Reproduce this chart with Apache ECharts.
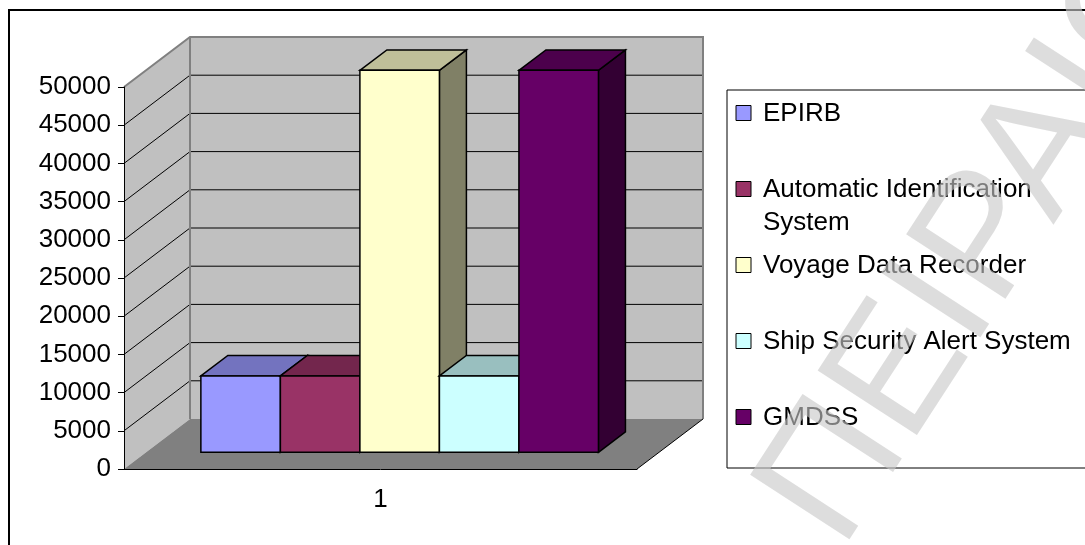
<!DOCTYPE html>
<html>
<head>
<meta charset="utf-8">
<script src="https://cdn.jsdelivr.net/npm/echarts/dist/echarts.min.js"></script>
<style>
html,body{margin:0;padding:0;background:#fff}
#main{width:1085px;height:545px}
</style>
</head>
<body>
<div id="main"></div>
<script>
var categories = ['1'];
var seriesNames = ['EPIRB', 'Automatic Identification System', 'Voyage Data Recorder', 'Ship Security Alert System', 'GMDSS'];
var seriesValues = [10000, 10000, 50000, 10000, 50000];
var frontColors = ['#9999FF', '#993366', '#FFFFCC', '#CCFFFF', '#660066'];
var topColors = ['#7373BF', '#73264D', '#BFBF99', '#99BFBF', '#4C004C'];
var sideColors = ['#4D4D80', '#4D1A33', '#808066', '#668080', '#330033'];
var yMax = 50000, yStep = 5000;

// fake 3d: depth of the walls and where the bars sit inside it
var DX = 66, DY = 50;
var barFront = 0.333, barBack = 0.742;
var barLeft = 0.107, barFrac = 0.155;
var FONT = '"Liberation Sans", Arial, sans-serif';

function renderWalls(params, api) {
	var c = api.coord([0, 0]);
	var band = api.size([1, 0])[0];
	var x0 = c[0] - band / 2, x1 = c[0] + band / 2, yb = c[1];
	var yt = api.coord([0, yMax])[1];
	var ch = [];
	ch.push({type: 'polygon', shape: {points: [[x0, yb], [x0 + DX, yb - DY], [x0 + DX, yt - DY], [x0, yt]]}, style: {fill: '#C0C0C0'}});
	ch.push({type: 'rect', shape: {x: x0 + DX, y: yt - DY, width: band, height: yb - yt}, style: {fill: '#C0C0C0'}});
	ch.push({type: 'polygon', shape: {points: [[x0, yb], [x1, yb], [x1 + DX, yb - DY], [x0 + DX, yb - DY]]}, style: {fill: '#808080'}});
	for (var v = yStep; v < yMax; v += yStep) {
		var y = api.coord([0, v])[1];
		ch.push({type: 'polyline', shape: {points: [[x0, y], [x0 + DX, y - DY], [x1 + DX, y - DY]]}, style: {stroke: '#000', lineWidth: 1, fill: null}});
	}
	ch.push({type: 'polyline', shape: {points: [[x0, yt], [x0 + DX, yt - DY], [x1 + DX, yt - DY], [x1 + DX, yb - DY]]}, style: {stroke: '#808080', lineWidth: 2, fill: null}});
	ch.push({type: 'line', shape: {x1: x0 + DX, y1: yt - DY, x2: x0 + DX, y2: yb - DY}, style: {stroke: '#808080', lineWidth: 2}});
	ch.push({type: 'line', shape: {x1: x1, y1: yb, x2: x1 + DX, y2: yb - DY}, style: {stroke: '#000', lineWidth: 1}});
	return {type: 'group', children: ch};
}

function makeBar(i) {
	return function (params, api) {
		var c = api.coord([api.value(0), api.value(1)]);
		var base = api.coord([api.value(0), 0]);
		var band = api.size([1, 0])[0];
		var bw = band * barFrac;
		var fx = c[0] - band / 2 + band * barLeft + i * bw + DX * barFront;
		var ft = c[1] - DY * barFront, fb = base[1] - DY * barFront;
		var dx = DX * (barBack - barFront), dy = DY * (barBack - barFront);
		var ln = {stroke: '#000', lineWidth: 1.5, lineJoin: 'miter'};
		return {type: 'group', children: [
			{type: 'polygon', shape: {points: [[fx + bw, fb], [fx + bw + dx, fb - dy], [fx + bw + dx, ft - dy], [fx + bw, ft]]},
				style: Object.assign({fill: sideColors[i]}, ln)},
			{type: 'polygon', shape: {points: [[fx, ft], [fx + dx, ft - dy], [fx + bw + dx, ft - dy], [fx + bw, ft]]},
				style: Object.assign({fill: topColors[i]}, ln)},
			{type: 'rect', shape: {x: fx, y: ft, width: bw, height: fb - ft},
				style: Object.assign({fill: frontColors[i]}, ln)}
		]};
	};
}

var series = [{
	type: 'custom', name: 'walls', renderItem: renderWalls, clip: false, z: 1, silent: true,
	data: [[categories[0], 0]]
}];
seriesNames.forEach(function (name, i) {
	series.push({type: 'custom', name: name, renderItem: makeBar(i), clip: false, z: 2 + i,
		data: [[categories[0], seriesValues[i]]]});
});

// legend drawn by hand (box + squares), one slot per series
var legend = [{type: 'rect', shape: {x: 727, y: 90, width: 420, height: 378}, style: {fill: '#fff', stroke: '#000', lineWidth: 1}, z: 1}];
seriesNames.forEach(function (name, i) {
	var cy = 113 + 76 * i;
	legend.push({type: 'rect', shape: {x: 736, y: cy - 7.5, width: 15, height: 15}, style: {fill: frontColors[i], stroke: '#000', lineWidth: 1}, z: 2});
	legend.push({type: 'text', x: 763, y: cy - 15.5, z: 2, style: {text: name, font: '26px ' + FONT, fill: '#000',
		width: 330, overflow: 'break', lineHeight: 33, verticalAlign: 'top', align: 'left'}});
});

var graphic = [
	{type: 'rect', shape: {x: 9, y: 10, width: 1100, height: 600}, style: {fill: null, stroke: '#000', lineWidth: 2}, z: 0}
].concat(legend).concat([
	{type: 'text', x: 874, y: 572, rotation: 57 * Math.PI / 180, z: 100, silent: true,
		style: {text: 'ΠΕΙΡΑΙΩΣ', font: '172px ' + FONT, fill: 'rgba(200,200,200,0.62)', align: 'left', verticalAlign: 'bottom'}}
]);

var option = {
	animation: false,
	grid: {left: 124, right: 448, top: 87, bottom: 76},
	xAxis: {
		type: 'category', data: categories, z: 10,
		axisLine: {lineStyle: {color: '#000', width: 1}},
		axisTick: {length: 6, lineStyle: {color: '#000'}},
		axisLabel: {color: '#000', fontSize: 26, fontFamily: FONT, margin: 18},
		splitLine: {show: false}
	},
	yAxis: {
		type: 'value', min: 0, max: yMax, interval: yStep, z: 10,
		axisLine: {show: true, lineStyle: {color: '#000', width: 1}},
		axisTick: {show: true, length: 6, lineStyle: {color: '#000'}},
		axisLabel: {color: '#000', fontSize: 26, fontFamily: FONT, margin: 13, formatter: function (v) { return String(v); }},
		splitLine: {show: false}
	},
	graphic: graphic,
	series: series
};

var mychart = echarts.init(document.getElementById('main'));
mychart.setOption(option);
</script>
</body>
</html>
